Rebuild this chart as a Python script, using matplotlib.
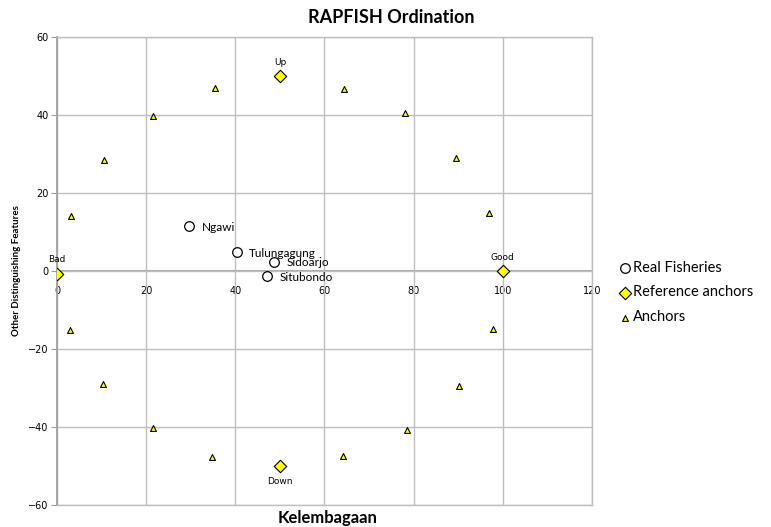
import matplotlib
matplotlib.use('Agg')
import matplotlib.pyplot as plt
import numpy as np

# Data ================
fish_names = ['Ngawi', 'Tulungagung', 'Sidoarjo', 'Situbondo']
fish_x = [29.7, 40.3, 48.7, 47.1]
fish_y = [11.6, 4.8, 2.4, -1.2]

ref_names = ['Bad', 'Good', 'Up', 'Down']
ref_x = [0.0, 100.0, 50.0, 50.0]
ref_y = [-0.7, 0.0, 50.0, -50.0]

anchor_x = [21.5, 35.4, 64.4, 78.1, 89.5, 96.9, 97.8, 90.2, 78.5, 64.2,
            34.8, 21.5, 10.3, 2.9, 3.1, 10.5]
anchor_y = [39.7, 46.9, 46.7, 40.5, 29.0, 14.9, -14.9, -29.5, -40.8, -47.4,
            -47.7, -40.3, -29.0, -15.1, 14.1, 28.5]

x_ticks = [0, 20, 40, 60, 80, 100, 120]
y_ticks = [-60, -40, -20, 0, 20, 40, 60]
# =====================

grid_col = '#BEBEBE'
axis_col = '#A0A0A0'
label_font = ['Lato', 'DejaVu Sans']

fig = plt.figure(figsize=(7.71, 5.27), dpi=100)
ax = fig.add_axes([0.0739, 0.0417, 0.6939, 0.8883])

ax.scatter(fish_x, fish_y, s=48, marker='o', facecolor='white',
           edgecolor='black', linewidth=0.9, zorder=4, label='Real Fisheries')
ax.scatter(ref_x, ref_y, s=40, marker='D', facecolor='#FFFF00',
           edgecolor='black', linewidth=0.8, zorder=4, label='Reference anchors')
ax.scatter(anchor_x, anchor_y, s=18, marker='^', facecolor='#FFFF00',
           edgecolor='black', linewidth=0.8, zorder=4, label='Anchors')

for name, x, y in zip(fish_names, fish_x, fish_y):
    ax.annotate(name, (x, y), xytext=(9, -1), textcoords='offset points',
                ha='left', va='center', fontsize=8.5, family=label_font, zorder=5)

for name, x, y in zip(ref_names, ref_x, ref_y):
    dy = -11 if name == 'Down' else 10
    ax.annotate(name, (x, y), xytext=(0, dy), textcoords='offset points',
                ha='center', va='center', fontsize=6.5, zorder=5)

ax.set_xlim(0, 120)
ax.set_ylim(-60, 60)
ax.set_xticks(x_ticks)
ax.set_yticks(y_ticks)
ax.grid(True, color=grid_col, linewidth=1.0)
ax.set_axisbelow(True)
for sp in ax.spines.values():
    sp.set_color(grid_col)
    sp.set_linewidth(1.0)
ax.spines['left'].set_color(axis_col)
ax.spines['left'].set_linewidth(1.3)

ax.tick_params(axis='y', labelsize=7, length=4, color=axis_col, pad=2)
ax.tick_params(axis='x', bottom=False, labelbottom=False)

# x axis crosses at y=0
sec = ax.secondary_xaxis(0.5)
sec.set_alignment('bottom')
sec.set_xticks(x_ticks)
sec.tick_params(axis='x', labelsize=7, length=0, pad=11)
for sp in sec.spines.values():
    sp.set_color(axis_col)
    sp.set_linewidth(1.3)

fig.text(0.508, 0.966, 'RAPFISH Ordination', ha='center', va='center',
         fontsize=13, fontweight='bold', family=label_font)
fig.text(0.425, 0.018, 'Kelembagaan', ha='center', va='center',
         fontsize=12, fontweight='bold', family=label_font)
fig.text(0.022, 0.486, 'Other Distinguishing Features', ha='center', va='center',
         rotation=90, fontsize=7, fontweight='bold', family=label_font)

ax.legend(loc='center left', bbox_to_anchor=(0.795, 0.445),
          bbox_transform=fig.transFigure, frameon=False,
          prop={'family': label_font, 'size': 10.5}, handletextpad=0.2,
          labelspacing=0.75, borderaxespad=0, handlelength=0.8)

plt.savefig('out.png', dpi=100)
